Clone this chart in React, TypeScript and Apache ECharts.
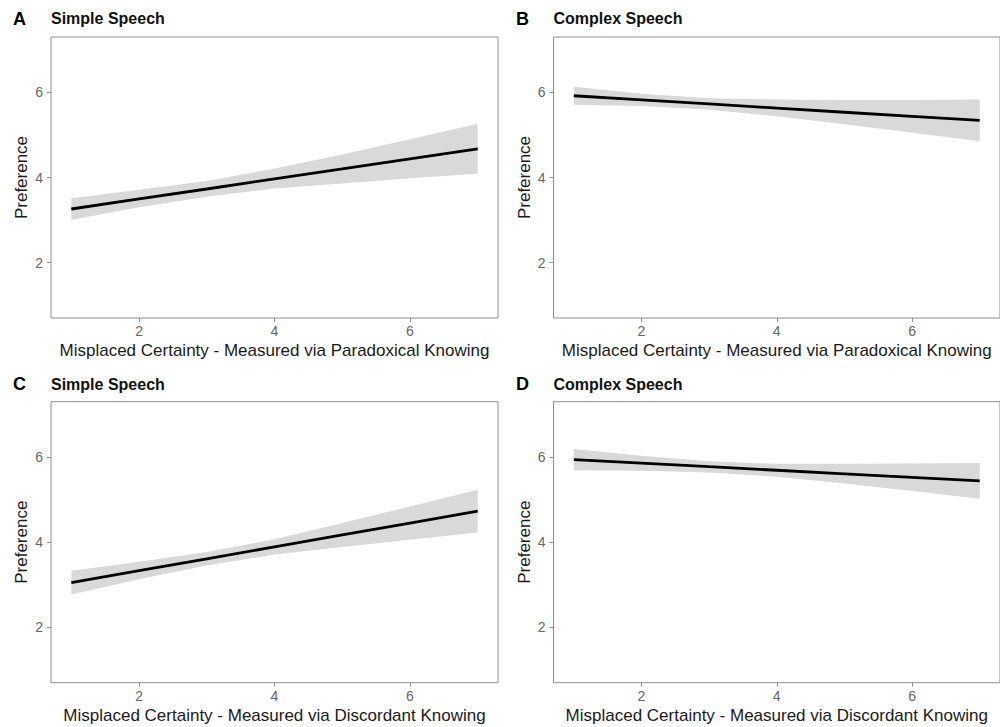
import React, { useEffect, useRef } from "react";
import * as echarts from "echarts";

// x positions of the fitted values (Misplaced Certainty scale)
const xVals = [1, 2, 3, 4, 5, 6, 7];

// Panel A: Simple Speech, Paradoxical Knowing
const fitA = [3.26, 3.5, 3.73, 3.97, 4.2, 4.44, 4.675];
const lowA = [3.0, 3.3, 3.55, 3.74, 3.86, 3.98, 4.09];
const upA = [3.51, 3.71, 3.92, 4.21, 4.54, 4.9, 5.26];

// Panel B: Complex Speech, Paradoxical Knowing
const fitB = [5.92, 5.823, 5.727, 5.63, 5.533, 5.437, 5.34];
const lowB = [5.71, 5.68, 5.59, 5.44, 5.25, 5.05, 4.85];
const upB = [6.13, 5.97, 5.86, 5.83, 5.82, 5.82, 5.83];

// Panel C: Simple Speech, Discordant Knowing
const fitC = [3.05, 3.33, 3.61, 3.89, 4.17, 4.45, 4.73];
const lowC = [2.77, 3.13, 3.45, 3.71, 3.89, 4.06, 4.23];
const upC = [3.33, 3.54, 3.77, 4.07, 4.45, 4.84, 5.23];

// Panel D: Complex Speech, Discordant Knowing
const fitD = [5.94, 5.857, 5.773, 5.69, 5.607, 5.523, 5.44];
const lowD = [5.69, 5.68, 5.64, 5.54, 5.38, 5.2, 5.02];
const upD = [6.19, 6.03, 5.9, 5.84, 5.84, 5.85, 5.86];

const tickVals = [2, 4, 6];
const panelLetters = ["A", "B", "C", "D"];
const panelTitles = ["Simple Speech", "Complex Speech", "Simple Speech", "Complex Speech"];
const xTitles = [
  "Misplaced Certainty - Measured via Paradoxical Knowing",
  "Misplaced Certainty - Measured via Paradoxical Knowing",
  "Misplaced Certainty - Measured via Discordant Knowing",
  "Misplaced Certainty - Measured via Discordant Knowing",
];
const yTitle = "Preference";

const FONT = "'Liberation Sans', Arial, Helvetica, sans-serif";

export default function App() {
  const ref = useRef<HTMLDivElement>(null);
  useEffect(() => {
    if (!ref.current) return;
    const chart = echarts.init(ref.current, null, { renderer: "svg" });

    const fits = [fitA, fitB, fitC, fitD];
    const lows = [lowA, lowB, lowC, lowD];
    const ups = [upA, upB, upC, upD];

    const layout = [
      { left: 51, top: 37, width: 447 },
      { left: 553.5, top: 37, width: 449 },
      { left: 51, top: 401.7, width: 447 },
      { left: 553.5, top: 401.7, width: 449 },
    ];
    const H = 281;

    const grids: any[] = [];
    const xAxes: any[] = [];
    const yAxes: any[] = [];
    const series: any[] = [];
    const graphics: any[] = [];
    const borderCol = "#8f8f8f";
    const labelCol = "#666666";

    for (let i = 0; i < 4; i++) {
      const L = layout[i];
      grids.push({
        left: L.left,
        top: L.top,
        width: L.width,
        height: H,
        show: true,
        borderColor: borderCol,
        borderWidth: 1,
        backgroundColor: "#fff",
        containLabel: false,
      });
      xAxes.push({
        type: "value",
        gridIndex: i,
        min: 0.7,
        max: 7.3,
        axisLine: { show: false },
        splitLine: { show: false },
        axisTick: {
          show: true,
          length: 4,
          customValues: tickVals,
          lineStyle: { color: borderCol, width: 1 },
        },
        axisLabel: {
          customValues: tickVals,
          color: labelCol,
          fontSize: 14,
          fontFamily: FONT,
          margin: 6,
        },
        name: xTitles[i],
        nameLocation: "middle",
        nameGap: 24,
        nameTextStyle: { color: "#1a1a1a", fontSize: 17, fontFamily: FONT },
      });
      yAxes.push({
        type: "value",
        gridIndex: i,
        min: 0.7,
        max: 7.3,
        axisLine: { show: false },
        splitLine: { show: false },
        axisTick: {
          show: true,
          length: 4,
          customValues: tickVals,
          lineStyle: { color: borderCol, width: 1 },
        },
        axisLabel: {
          customValues: tickVals,
          color: labelCol,
          fontSize: 14,
          fontFamily: FONT,
          margin: 8,
        },
        name: yTitle,
        nameLocation: "middle",
        nameGap: 21,
        nameTextStyle: { color: "#1a1a1a", fontSize: 17, fontFamily: FONT },
      });

      const low = lows[i];
      const up = ups[i];
      series.push({
        type: "custom",
        xAxisIndex: i,
        yAxisIndex: i,
        silent: true,
        z: 1,
        data: [[xVals[0], low[0]]],
        renderItem: (_params: any, api: any) => {
          const pts: number[][] = [];
          for (let k = 0; k < xVals.length; k++) pts.push(api.coord([xVals[k], up[k]]));
          for (let k = xVals.length - 1; k >= 0; k--) pts.push(api.coord([xVals[k], low[k]]));
          return {
            type: "polygon",
            shape: { points: pts },
            style: { fill: "#d9d9d9", stroke: "none" },
          };
        },
      });
      series.push({
        type: "line",
        xAxisIndex: i,
        yAxisIndex: i,
        z: 3,
        symbol: "none",
        silent: true,
        data: xVals.map((x, k) => [x, fits[i][k]]),
        lineStyle: { color: "#000", width: 2.8 },
      });

      const letterX = i % 2 === 0 ? 13 : 516;
      const titleY = i < 2 ? 19.5 : 385;
      graphics.push({
        type: "text",
        left: letterX,
        top: titleY - 10,
        style: {
          text: panelLetters[i],
          font: `bold 18px ${FONT}`,
          fill: "#000",
        },
      });
      graphics.push({
        type: "text",
        left: L.left,
        top: titleY - 9,
        style: {
          text: panelTitles[i],
          font: `bold 16px ${FONT}`,
          fill: "#111",
        },
      });
    }

    chart.setOption({
      animation: false,
      backgroundColor: "#fff",
      grid: grids,
      xAxis: xAxes,
      yAxis: yAxes,
      series,
      graphic: graphics,
    });
    return () => chart.dispose();
  }, []);

  return (
    <div
      ref={ref}
      style={{ position: "absolute", left: 0, top: 0, width: 1000, height: 727 }}
    />
  );
}
